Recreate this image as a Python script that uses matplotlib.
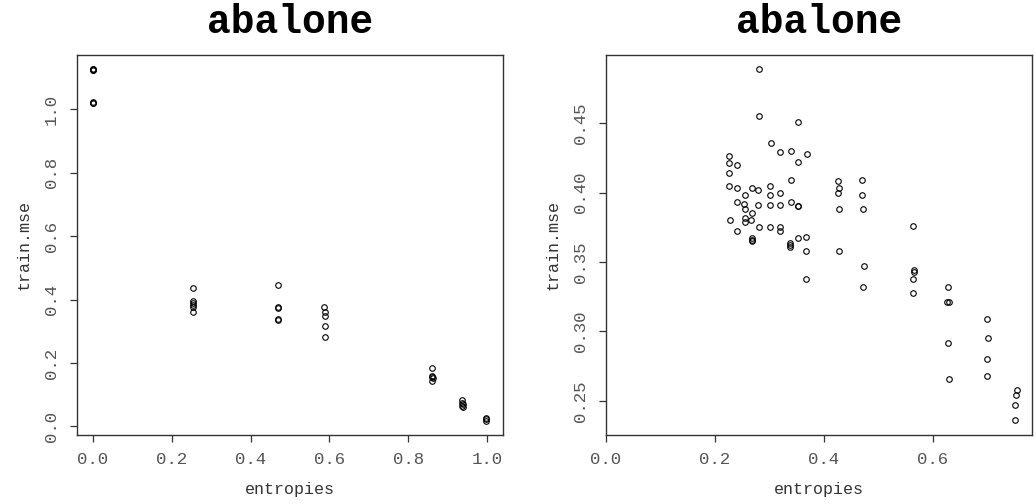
import matplotlib
matplotlib.use("Agg")
import matplotlib.pyplot as plt

# left panel: train.mse vs entropies (all points)
left_x = [0.0, 0.0, 0.0, 0.0, 0.0, 0.0, 0.0,
          0.255, 0.255, 0.255, 0.255, 0.255, 0.255,
          0.469, 0.469, 0.469, 0.469, 0.469,
          0.587, 0.588, 0.588, 0.588, 0.588,
          0.860, 0.861, 0.859, 0.862, 0.860,
          0.937, 0.937, 0.938, 0.937, 0.938,
          0.998, 0.998, 0.998]
left_y = [1.127, 1.126, 1.125, 1.124, 1.023, 1.021, 1.019,
          0.437, 0.395, 0.390, 0.384, 0.378, 0.362,
          0.447, 0.375, 0.373, 0.339, 0.337,
          0.375, 0.361, 0.347, 0.316, 0.282,
          0.184, 0.158, 0.155, 0.152, 0.143,
          0.082, 0.075, 0.070, 0.066, 0.060,
          0.026, 0.022, 0.018]

# right panel: zoomed subset
right_x = [0.225, 0.225, 0.225, 0.225, 0.227,
           0.241, 0.241, 0.241, 0.241,
           0.253, 0.255, 0.255, 0.255, 0.255,
           0.268, 0.268, 0.267, 0.268, 0.268, 0.268,
           0.281, 0.281, 0.279, 0.279, 0.281,
           0.303, 0.301, 0.301, 0.301, 0.301,
           0.320, 0.320, 0.320, 0.320, 0.320,
           0.339, 0.339, 0.339, 0.337, 0.337, 0.337,
           0.353, 0.353, 0.352, 0.353, 0.353,
           0.369, 0.367, 0.367, 0.367,
           0.425, 0.427, 0.425, 0.427, 0.427,
           0.470, 0.470, 0.471, 0.473, 0.471,
           0.564, 0.566, 0.566, 0.564, 0.564,
           0.627, 0.626, 0.629, 0.627, 0.629,
           0.700, 0.702, 0.700, 0.700,
           0.754, 0.752, 0.750, 0.750]
right_y = [0.426, 0.421, 0.414, 0.405, 0.380,
           0.420, 0.403, 0.393, 0.372,
           0.392, 0.398, 0.388, 0.382, 0.379,
           0.403, 0.385, 0.380, 0.367, 0.366, 0.365,
           0.489, 0.455, 0.402, 0.391, 0.375,
           0.436, 0.405, 0.398, 0.391, 0.375,
           0.429, 0.400, 0.391, 0.375, 0.372,
           0.430, 0.409, 0.393, 0.364, 0.362, 0.361,
           0.451, 0.422, 0.390, 0.390, 0.367,
           0.428, 0.368, 0.358, 0.338,
           0.408, 0.403, 0.400, 0.388, 0.358,
           0.409, 0.398, 0.388, 0.347, 0.332,
           0.376, 0.344, 0.343, 0.338, 0.328,
           0.332, 0.321, 0.321, 0.292, 0.266,
           0.309, 0.295, 0.280, 0.268,
           0.258, 0.254, 0.247, 0.236]

left_xticks = [0.0, 0.2, 0.4, 0.6, 0.8, 1.0]
left_yticks = [0.0, 0.2, 0.4, 0.6, 0.8, 1.0]
right_xticks = [0.0, 0.2, 0.4, 0.6]
right_yticks = [0.25, 0.30, 0.35, 0.40, 0.45]

MONO = "Liberation Mono"
TXT = "#555555"

fig = plt.figure(figsize=(10.36, 5.04), dpi=100)
ax1 = fig.add_axes([77 / 1036, 1 - 435 / 504, 426 / 1036, 380 / 504])
ax2 = fig.add_axes([606 / 1036, 1 - 435 / 504, 426 / 1036, 380 / 504])


def style(ax, xs, ys, xticks, yticks, xlim, ylim, fmt):
    ax.plot(xs, ys, "o", mfc="none", mec="black", ms=4, mew=0.8)
    ax.set_xlim(*xlim)
    ax.set_ylim(*ylim)
    ax.set_xticks(xticks)
    ax.set_xticklabels([f"{t:.1f}" for t in xticks])
    ax.set_yticks(yticks)
    ax.set_yticklabels([fmt.format(t) for t in yticks], rotation=90, va="center")
    for s in ax.spines.values():
        s.set_color("#333333")
        s.set_linewidth(1.0)
    ax.tick_params(direction="out", length=5, width=0.9, color="#333333",
                   labelsize=12.5, labelcolor=TXT)
    ax.tick_params(axis="x", pad=7)
    ax.tick_params(axis="y", pad=8)
    for lab in ax.get_xticklabels() + ax.get_yticklabels():
        lab.set_family(MONO)
    ax.set_title("abalone", family=MONO, fontweight="bold", fontsize=28.5, pad=16)
    ax.set_xlabel("entropies", family=MONO, fontsize=12, color="#333333", labelpad=11)
    ax.set_ylabel("train.mse", family=MONO, fontsize=12, color="#333333", labelpad=9)


style(ax1, left_x, left_y, left_xticks, left_yticks,
      (-0.04, 1.04), (-0.027, 1.171), "{:.1f}")
style(ax2, right_x, right_y, right_xticks, right_yticks,
      (0.0, 0.782), (0.2255, 0.499), "{:.2f}")

fig.savefig("out.png", dpi=100)
